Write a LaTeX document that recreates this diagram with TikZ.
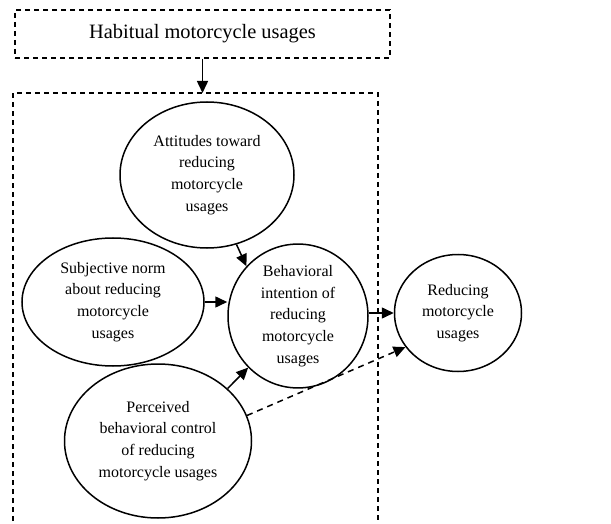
\documentclass[tikz,border=0pt]{standalone}
\usepackage{fontspec}
\setmainfont{Liberation Serif}
\usetikzlibrary{shapes.geometric,arrows.meta}
\begin{document}
\begin{tikzpicture}[x=1pt,y=-1pt,
  oval/.style={ellipse,draw,line width=1.5pt,inner sep=0pt,align=center,
    font=\fontsize{16}{21.8}\selectfont},
  frame/.style={draw,dash pattern=on 5pt off 4pt,line width=1.2pt},
  arr/.style={line width=1.5pt,-{Triangle[length=12pt,width=11pt]}},
  darr/.style={arr,dash pattern=on 6pt off 5pt}]
\useasboundingbox (0,0) rectangle (611,524);
\node[frame,minimum width=375pt,minimum height=48pt,inner sep=0pt,
  font=\fontsize{20.4}{24}\selectfont] (hab) at (202.5,34) {Habitual motorcycle usages};
\coordinate (boxtop) at (202.5,93);
\draw[frame] (13,530) -- (13,93) -- (378,93) -- (378,530);
\node[oval,minimum width=174pt,minimum height=146pt] (att) at (207,175)
  {Attitudes toward\\reducing\\motorcycle\\usages};
\node[oval,minimum width=182pt,minimum height=128pt] (sn) at (113,302)
  {Subjective norm\\about reducing\\motorcycle\\usages};
\node[oval,minimum width=140pt,minimum height=130pt] (bi) at (298,316)
  {Behavioral\\intention of\\reducing\\motorcycle\\usages};
\node[oval,minimum width=127pt,minimum height=117pt] (red) at (458,313)
  {Reducing\\motorcycle\\usages};
\node[oval,minimum width=187pt,minimum height=154pt] (pbc) at (158,441)
  {Perceived\\behavioral control\\of reducing\\motorcycle usages};
\draw[arr] (hab.south) -- (boxtop);
\draw[arr] (att.-67) -- (bi.136);
\draw[arr] (sn.east) -- (bi.west |- sn.east);
\draw[arr] (bi.east |- red.west) -- (red.west);
\draw[arr] (pbc.37) -- (bi.226);
\draw[darr] (pbc.16) -- (red.213);
\end{tikzpicture}
\end{document}
